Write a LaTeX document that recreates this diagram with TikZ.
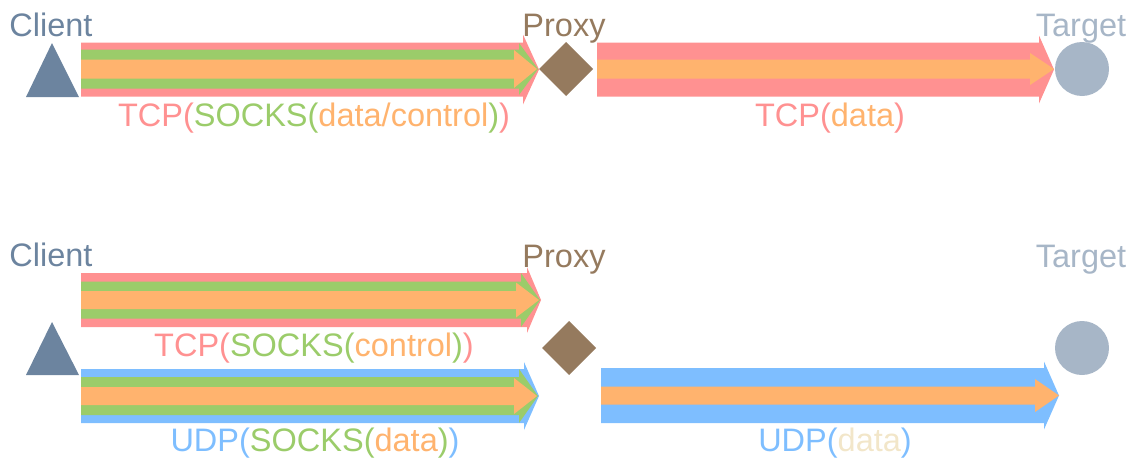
\documentclass[tikz,border=0pt]{standalone}
\usepackage{fontspec}
\setmainfont{Liberation Sans}
\definecolor{clientc}{HTML}{6C849F}
\definecolor{redc}{HTML}{FF9191}
\definecolor{greenc}{HTML}{9BCC6A}
\definecolor{orangec}{HTML}{FFB36E}
\definecolor{bluec}{HTML}{7EBEFF}
\definecolor{proxyc}{HTML}{957A5E}
\definecolor{targetc}{HTML}{A7B6C7}
\definecolor{beigec}{HTML}{F2E6C9}
% colour, x start, x tip, y centre, shaft half width, head half width, head length
\newcommand{\fatarr}[7]{%
  \fill[#1] (#2,#4-#5) -- (#3-#7,#4-#5) -- (#3-#7,#4-#6) -- (#3,#4)
    -- (#3-#7,#4+#6) -- (#3-#7,#4+#5) -- (#2,#4+#5) -- cycle;}
\begin{document}
\begin{tikzpicture}[x=1pt,y=-1pt,
  lbl/.style={inner sep=0pt,anchor=base,font=\fontsize{32.5}{39}\selectfont},
  clientshape/.style={fill=clientc},
  proxyshape/.style={fill=proxyc},
  targetshape/.style={fill=targetc}]
\useasboundingbox (0,0) rectangle (1129,458);
% ---------- top row ----------
\node[lbl,text=clientc] (client1) at (51,36.5) {Client};
\node[lbl,text=proxyc] (proxy1) at (564,36) {Proxy};
\node[lbl,text=targetc] (target1) at (1081,36) {Target};
\fill[clientshape] (52,43) -- (79,97) -- (26,97) -- cycle;
\fill[proxyshape] (566,42) -- (593,69) -- (566,96) -- (539,69) -- cycle;
\fill[targetshape] (1082,69) circle (27);
\fatarr{redc}{81}{539}{69.5}{27}{35}{16}
\fatarr{greenc}{81}{538}{69}{19.5}{26}{19}
\fatarr{orangec}{81}{537}{69}{9.5}{19}{23}
\fatarr{redc}{597}{1054}{69.5}{27}{34}{15}
\fatarr{orangec}{597}{1054}{69}{9.5}{16}{24}
\node[lbl] (l1) at (314,126) {\color{redc}TCP(\color{greenc}SOCKS(\color{orangec}data/control\color{greenc})\color{redc})};
\node[lbl] (l2) at (830,126) {\color{redc}TCP(\color{orangec}data\color{redc})};
% ---------- bottom row ----------
\node[lbl,text=clientc] (client2) at (51,266) {Client};
\node[lbl,text=proxyc] (proxy2) at (564,267) {Proxy};
\node[lbl,text=targetc] (target2) at (1081,267) {Target};
\fill[clientshape] (52,322) -- (79,375) -- (26,375) -- cycle;
\fill[proxyshape] (569,321) -- (596,348) -- (569,375) -- (542,348) -- cycle;
\fill[targetshape] (1082,348) circle (27);
\fatarr{redc}{81}{541}{300}{27}{33}{14}
\fatarr{greenc}{81}{540}{300}{18.5}{27}{19}
\fatarr{orangec}{81}{539}{300}{9}{17.5}{23}
\fatarr{bluec}{81}{539}{396}{27}{34}{15}
\fatarr{greenc}{81}{538}{396}{19}{27}{19}
\fatarr{orangec}{81}{537}{396}{9}{18}{23}
\fatarr{bluec}{601}{1059}{395.5}{27.5}{34}{15}
\fatarr{orangec}{601}{1059}{395.5}{9}{16.5}{24}
\node[lbl] (l3) at (314,356) {\color{redc}TCP(\color{greenc}SOCKS(\color{orangec}control\color{greenc})\color{redc})};
\node[lbl] (l4) at (315,451) {\color{bluec}UDP(\color{greenc}SOCKS(\color{orangec}data\color{greenc})\color{bluec})};
\node[lbl] (l5) at (835,451) {\color{bluec}UDP(\color{beigec}data\color{bluec})};
\end{tikzpicture}
\end{document}
